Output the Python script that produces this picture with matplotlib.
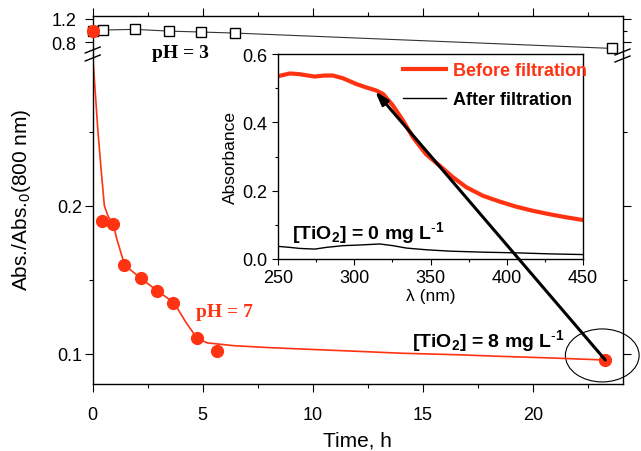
import numpy as np
import matplotlib.pyplot as plt
from matplotlib.patches import Ellipse
from matplotlib.lines import Line2D

plt.rcParams['font.family'] = ['Liberation Sans', 'DejaVu Sans']
plt.rcParams['mathtext.fontset'] = 'custom'
plt.rcParams['mathtext.rm'] = 'Liberation Sans'
plt.rcParams['mathtext.bf'] = 'Liberation Sans:bold'
plt.rcParams['mathtext.it'] = 'Liberation Sans:italic'
plt.rcParams['axes.linewidth'] = 1.0

red = '#ff3311'

# pH = 3 kinetics (open squares)
t_ph3 = np.array([0.0, 0.45, 1.93, 3.48, 4.93, 6.48, 23.6])
v_ph3 = np.array([1.0, 1.009, 1.02, 0.99, 0.974, 0.956, 0.69])

# pH = 7 kinetics (filled circles)
t_ph7 = np.array([0.0, 0.435, 0.93, 1.43, 2.2, 2.93, 3.65, 4.72, 5.66, 23.29])
v_ph7 = np.array([1.0, 0.190, 0.188, 0.160, 0.151, 0.1426, 0.1345, 0.1106, 0.102, 0.0959])

# smoothed curve through the pH = 7 points
t_fit = [0, 0.014, 0.23, 0.38, 0.53, 0.7, 0.93, 1.09, 1.45, 2.2, 2.95, 3.7, 4.25, 4.75,
         5.2, 6.4, 8.0, 9.4, 12.0, 14.0, 16.5, 18.5, 21.0, 23.29]
v_fit = [1.0, 0.299, 0.252, 0.225, 0.200, 0.193, 0.188, 0.178, 0.160, 0.151, 0.1425, 0.1345,
         0.121, 0.1105, 0.1075, 0.1056, 0.1043, 0.1034, 0.1018, 0.1005, 0.0995, 0.0984,
         0.0972, 0.0959]

# inset spectra
lam_before = [250, 257.7, 264, 274, 280.6, 286, 292.6, 301.4, 308, 314.5, 318.9, 325.4, 332,
              338.5, 347, 356, 364.8, 373.5, 384.4, 395.4, 406.3, 417.2, 428.1, 439.1, 450]
abs_before = [0.535, 0.543, 0.541, 0.534, 0.537, 0.537, 0.529, 0.512, 0.502, 0.493, 0.483,
              0.449, 0.405, 0.356, 0.307, 0.273, 0.239, 0.210, 0.185, 0.168, 0.153, 0.141,
              0.131, 0.122, 0.114]
lam_after = [250, 257.7, 264.2, 274, 281.7, 292.6, 303.6, 316.7, 325.4, 334.2, 347.3, 362.6,
             384.4, 406.3, 428.1, 450]
abs_after = [0.037, 0.034, 0.031, 0.029, 0.034, 0.039, 0.041, 0.044, 0.039, 0.032, 0.027,
             0.023, 0.020, 0.018, 0.015, 0.013]

W, H = 641, 452
fig = plt.figure(figsize=(W / 100, H / 100), dpi=100)


def box(l, t, r, b):
    return [l / W, 1 - b / H, (r - l) / W, (b - t) / H]


ax_top = fig.add_axes(box(92.7, 17, 622.5, 56))
ax = fig.add_axes(box(92.7, 56, 622.5, 385))
ins = fig.add_axes(box(278, 55, 583, 260))

xmax = 24.07
for a in (ax_top, ax):
    a.set_xlim(0, xmax)
    a.set_xticks([0, 5, 10, 15, 20])
    a.set_xticks(np.arange(2.5, 24, 5), minor=True)
    a.tick_params(which='both', direction='out', width=0.8, labelsize=13)
    a.tick_params(which='major', length=6)
    a.tick_params(which='minor', length=3)

# upper segment of the broken axis
ax_top.set_ylim(0.576, 1.252)
ax_top.set_yticks([0.8, 1.2])
ax_top.set_yticks([1.0], minor=True)
ax_top.spines['bottom'].set_visible(False)
ax_top.tick_params(which='both', bottom=False, labelbottom=False, top=True, right=True)
ax_top.tick_params(axis='y', pad=6)

# lower segment
ax.set_ylim(0.0797, 0.302)
ax.set_yticks([0.1, 0.2])
ax.set_yticks([0.15, 0.25], minor=True)
ax.spines['top'].set_visible(False)
ax.tick_params(which='both', top=False, right=True)
ax.tick_params(axis='y', pad=1.5)
ax.tick_params(axis='x', pad=10)

for a in (ax_top, ax):
    a.plot(t_fit, v_fit, color=red, lw=1.2)
    a.plot(t_ph3, v_ph3, '-', color='#333333', lw=0.8)

hi3 = v_ph3 > 0.5
ax_top.plot(t_ph3[hi3], v_ph3[hi3], 's', ms=7.5, mfc='white', mec='k', mew=1.0, clip_on=False)
hi7 = v_ph7 > 0.5
ax_top.plot(t_ph7[hi7], v_ph7[hi7], 'o', ms=8.5, color=red, clip_on=False, zorder=5)
ax.plot(t_ph7[~hi7], v_ph7[~hi7], 'o', ms=8.5, color=red, clip_on=False, zorder=5)

ax.add_patch(Ellipse((23.15, 0.099), 3.35, 0.0358, fill=False, lw=0.8, ec='k', clip_on=False))

ax.set_xlabel('Time, h', fontsize=15, labelpad=5)
fig.text(22 / W, 1 - 200 / H, 'Abs./Abs.$_0$(800 nm)', rotation=90, fontsize=15,
         ha='center', va='center')

fig.text(180 / W, 1 - 53 / H, 'pH = 3', fontsize=14, fontweight='bold',
         family='Liberation Serif', ha='center', va='center')
ax.text(5.97, 0.1284, 'pH = 7', fontsize=14, fontweight='bold', color=red,
        family='Liberation Serif', ha='center', va='center')
tio2_8 = r'[TiO$_\mathbf{2}$] = 8 mg L$^{\text{-}\mathbf{1}}$'
tio2_0 = r'[TiO$_\mathbf{2}$] = 0 mg L$^{\text{-}\mathbf{1}}$'
ax.text(14.51, 0.1095, tio2_8, fontsize=14, fontweight='bold', ha='left', va='center')

# break marks on both spines
for x0, ys in ((92.7, (51, 59)), (622.5, (53, 60))):
    for y0 in ys:
        fig.add_artist(Line2D([(x0 - 7.5) / W, (x0 + 7.5) / W],
                              [1 - (y0 + 3) / H, 1 - (y0 - 3) / H], color='k', lw=1.0))

# inset: absorption spectra
ins.plot(lam_before, abs_before, color=red, lw=3, label='Before filtration')
ins.plot(lam_after, abs_after, color='k', lw=1.0, label='After filtration')
ins.set_xlim(250, 450)
ins.set_ylim(0, 0.6)
ins.set_xticks([250, 300, 350, 400, 450])
ins.set_xticks(np.arange(275, 450, 50), minor=True)
ins.set_yticks([0.0, 0.2, 0.4, 0.6])
ins.set_yticks([0.1, 0.3, 0.5], minor=True)
ins.tick_params(which='both', direction='out', width=0.8, labelsize=13, top=False, right=False)
ins.tick_params(which='major', length=4)
ins.tick_params(which='minor', length=2)
ins.set_xlabel('λ (nm)', fontsize=12.5, labelpad=1)
ins.set_ylabel('Absorbance', fontsize=12.5, labelpad=3)
ins.text(259.2, 0.079, tio2_0, fontsize=14, fontweight='bold', ha='left', va='center')

leg = ins.legend(loc='upper left', bbox_to_anchor=(0.41, 0.96), frameon=False,
                 prop={'weight': 'bold', 'size': 13}, handlelength=2.4,
                 handletextpad=0.35, labelspacing=0.65, borderpad=0, borderaxespad=0)
leg.get_texts()[0].set_color(red)

ins.annotate('', xy=(313.6, 0.4917), xycoords='data', xytext=(23.29, 0.0959),
             textcoords=ax.transData, annotation_clip=False,
             arrowprops=dict(arrowstyle='-|>,head_length=0.8,head_width=0.25', color='k',
                             lw=2.2, shrinkA=0, shrinkB=0))

fig.savefig('out.png', dpi=100)
